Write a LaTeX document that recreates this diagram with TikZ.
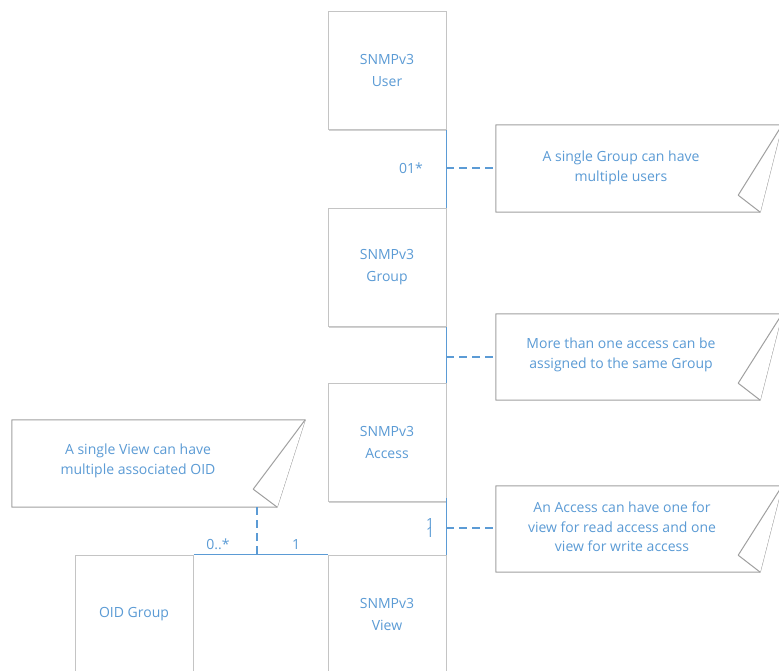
\documentclass[tikz,border=0pt]{standalone}
\usepackage{fontspec}
\setmainfont{Open Sans}
\usetikzlibrary{calc,shadows}
\definecolor{txtblue}{RGB}{91,155,213}
\definecolor{lnblue}{RGB}{91,155,213}
\definecolor{boxgray}{RGB}{196,196,196}
\definecolor{notegray}{RGB}{160,160,160}
\begin{document}
\begin{tikzpicture}[x=1pt,y=-1pt,
  entity/.style={draw=boxgray, fill=white, line width=1pt, minimum width=118pt, minimum height=118pt,
    inner sep=0pt, text=txtblue, align=center, font=\fontsize{14}{22}\selectfont,
    drop shadow={shadow xshift=1.2pt, shadow yshift=-1.2pt, opacity=0.18, fill=black}},
  notebody/.style={draw=none, inner sep=0pt},
  noteline/.style={draw=notegray, fill=white, line width=1pt, line join=round},
  notetext/.style={text=txtblue, align=center, inner sep=0pt, font=\fontsize{14}{19.5}\selectfont},
  conn/.style={draw=lnblue, line width=1pt},
  dashconn/.style={draw=lnblue, line width=1.3pt, dash pattern=on 8pt off 5pt},
  lbl/.style={text=txtblue, inner sep=0pt, font=\fontsize{14}{16}\selectfont}]
\useasboundingbox (0,0) rectangle (779,671);
\clip (0,0) rectangle (779,671);

% entities
\node[entity] (user) at (387,71) {SNMPv3\\User};
\node[entity] (group) at (387,267.5) {SNMPv3\\Group};
\node[entity] (access) at (387,442.5) {SNMPv3\\Access};
\node[entity] (view) at (387,614) {SNMPv3\\View};
\node[entity] (oid) at (134,614) {OID Group};

% notes (bodies)
\node[notebody, minimum width=286pt, minimum height=87pt] (n1) at (639,168.5) {};
\node[notebody, minimum width=286pt, minimum height=86pt] (n2) at (639,357) {};
\node[notebody, minimum width=286pt, minimum height=86pt] (n3) at (639,529) {};
\node[notebody, minimum width=293pt, minimum height=87pt] (n4) at (158.5,463.5) {};

\foreach \n in {n1,n2,n3}{
  \draw[noteline] (\n.north west) -- (\n.north east) -- ($(\n.south east)+(-22,0)$) -- (\n.south west) -- cycle;
  \draw[noteline] (\n.north east) -- ($(\n.south east)+(-44,-17)$) -- ($(\n.south east)+(-22,0)$);
}
\draw[noteline] (n4.north west) -- (n4.north east) -- ($(n4.south east)+(-28,0)$) -- (n4.south west) -- cycle;
\draw[noteline] (n4.north east) -- ($(n4.south east)+(-52,-18)$) -- ($(n4.south east)+(-28,0)$);

\node[notetext] (t1) at (621,168) {A single Group can have\\multiple users};
\node[notetext] (t2) at (621,355) {More than one access can be\\assigned to the same Group};
\node[notetext] (t3) at (622,527) {An Access can have one for\\view for read access and one\\view for write access};
\node[notetext] (t4) at (138,461) {A single View can have\\multiple associated OID};

% connectors
\draw[conn] (user.south east) -- (group.north east);
\draw[conn] (group.south east) -- (access.north east);
\draw[conn] ($(access.south east)+(0,-4)$) -- (view.north east);
\draw[conn] (oid.north east) -- (view.north west);

% labels
\node[lbl] (l1) at (411,168) {01*};
\node[lbl] (l2) at (430,523.5) {1};
\node[lbl] (l3) at (430,532) {1};
\node[lbl] (l4) at (218,544) {0..*};
\node[lbl] (l5) at (296,544) {1};

% dashed note links
\coordinate (c1) at (446,168);
\coordinate (c2) at (446,357);
\coordinate (c3) at (446,528);
\coordinate (c4) at (257,555);
\draw[dashconn] (c1) -- (c1 -| n1.west);
\draw[dashconn] (c2) -- (c2 -| n2.west);
\draw[dashconn] (c3) -- (c3 -| n3.west);
\draw[dashconn] (c4 |- n4.south) -- (c4);
\end{tikzpicture}
\end{document}
